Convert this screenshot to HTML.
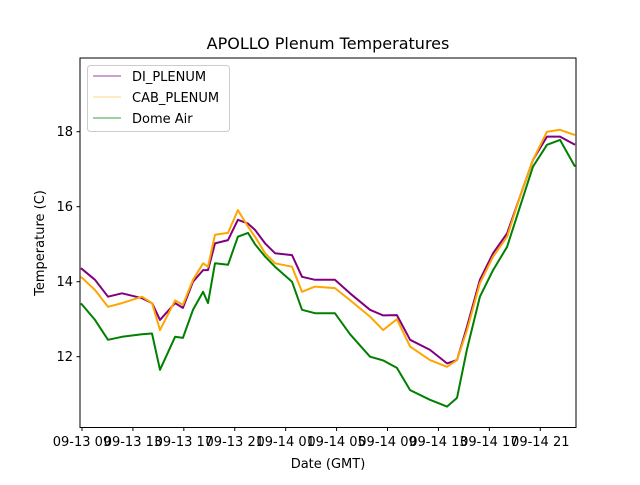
<!DOCTYPE html>
<html><head><meta charset="utf-8"><style>
body{margin:0;background:#fff}
svg text{font-family:"DejaVu Sans","Liberation Sans",sans-serif;fill:#000}
</style></head><body>
<svg id="chart" width="640" height="480" viewBox="0 0 640 480">
<rect x="0" y="0" width="640" height="480" fill="#fff"/>
<text x="328" y="49" font-size="16" text-anchor="middle">APOLLO Plenum Temperatures</text>
<g id="series"></g>
<g id="axes"></g>
<rect x="80" y="58" width="496" height="369.5" fill="none" stroke="#000" stroke-width="1"/>
<text x="328" y="468" font-size="13" text-anchor="middle">Date (GMT)</text>
<text x="44" y="243" font-size="13" text-anchor="middle" transform="rotate(-90 44 243)">Temperature (C)</text>
<g>
<rect x="87.5" y="65.5" width="142" height="66" rx="3" fill="#fff" fill-opacity="0.8" stroke="#ccc"/>
<line x1="93" y1="76" x2="121" y2="76" stroke="purple" stroke-width="0.8"/>
<text x="132" y="81" font-size="13">DI_PLENUM</text>
<line x1="93" y1="97" x2="121" y2="97" stroke="#ffc860" stroke-width="0.8"/>
<text x="132" y="102" font-size="13">CAB_PLENUM</text>
<line x1="93" y1="118" x2="121" y2="118" stroke="green" stroke-width="0.8"/>
<text x="132" y="123" font-size="13">Dome Air</text>
</g>
</svg>
<script>
// hours since 09-13 09:00 GMT
const hours = [-0.08,1.02,2.04,3.14,4.71,5.5,6.13,7.31,7.93,8.72,9.51,9.9,10.45,11.47,12.25,13.04,13.59,14.38,15.16,16.5,17.28,18.3,19.87,21.05,22.62,23.65,24.74,25.77,27.34,28.67,29.46,30.24,31.26,32.29,33.39,34.41,35.43,36.53,37.55,38.73];
const diPlenum = [14.36,14.05,13.6,13.69,13.56,13.43,12.98,13.43,13.3,14.0,14.31,14.31,15.02,15.11,15.65,15.55,15.38,15.02,14.76,14.71,14.13,14.05,14.05,13.69,13.25,13.1,13.11,12.45,12.18,11.82,11.91,12.8,14.05,14.76,15.29,16.27,17.25,17.87,17.87,17.65];
const cabPlenum = [14.13,13.78,13.33,13.43,13.6,13.43,12.71,13.5,13.38,14.05,14.49,14.4,15.25,15.3,15.91,15.47,15.2,14.76,14.49,14.4,13.73,13.87,13.83,13.51,13.07,12.71,13.0,12.27,11.91,11.73,11.91,12.71,13.96,14.67,15.2,16.27,17.25,18.0,18.05,17.91];
const domeAir = [13.42,12.98,12.45,12.53,12.6,12.62,11.65,12.53,12.5,13.25,13.73,13.43,14.49,14.45,15.2,15.3,15.0,14.67,14.4,14.0,13.25,13.16,13.16,12.6,12.0,11.9,11.7,11.11,10.85,10.67,10.9,12.2,13.6,14.31,14.93,16.0,17.07,17.65,17.78,17.07];
const xTickHours = [0,4,8,12,16,20,24,28,32,36];
const xTickLabels = ["09-13 09","09-13 13","09-13 17","09-13 21","09-14 01","09-14 05","09-14 09","09-14 13","09-14 17","09-14 21"];
const yTicks = [12,14,16,18];

const NS="http://www.w3.org/2000/svg";
function xs(h){return 82+h*12.73;}
function ys(v){return 356.7-(v-12)*37.5;}
const sg=document.getElementById('series'), ag=document.getElementById('axes');
function line(vals,color,name){
  const p=document.createElementNS(NS,'path');
  p.setAttribute('d',vals.map((v,i)=>(i?'L':'M')+xs(hours[i]).toFixed(1)+' '+ys(v).toFixed(1)).join(' '));
  p.setAttribute('fill','none');p.setAttribute('stroke',color);p.setAttribute('stroke-width','2');
  p.setAttribute('stroke-linejoin','round');
  
  
  sg.appendChild(p);
}
line(diPlenum,'purple','di-plenum-line');
line(cabPlenum,'orange','cab-plenum-line');
line(domeAir,'green','dome-air-line');
xTickHours.forEach((h,i)=>{
  const x=xs(h);
  const t=document.createElementNS(NS,'line');
  t.setAttribute('x1',x);t.setAttribute('x2',x);t.setAttribute('y1',427.5);t.setAttribute('y2',431);t.setAttribute('stroke','#000');
  
  
  ag.appendChild(t);
  const l=document.createElementNS(NS,'text');
  l.setAttribute('x',x);l.setAttribute('y',446);l.setAttribute('font-size','13');l.setAttribute('text-anchor','middle');
  l.textContent=xTickLabels[i];
  
  
  ag.appendChild(l);
});
yTicks.forEach(v=>{
  const y=ys(v);
  const t=document.createElementNS(NS,'line');
  t.setAttribute('x1',76.5);t.setAttribute('x2',80);t.setAttribute('y1',y);t.setAttribute('y2',y);t.setAttribute('stroke','#000');
  
  
  ag.appendChild(t);
  const l=document.createElementNS(NS,'text');
  l.setAttribute('x',73);l.setAttribute('y',y+4.5);l.setAttribute('font-size','13');l.setAttribute('text-anchor','end');
  l.textContent=v;
  
  
  ag.appendChild(l);
});
</script>
</body></html>
